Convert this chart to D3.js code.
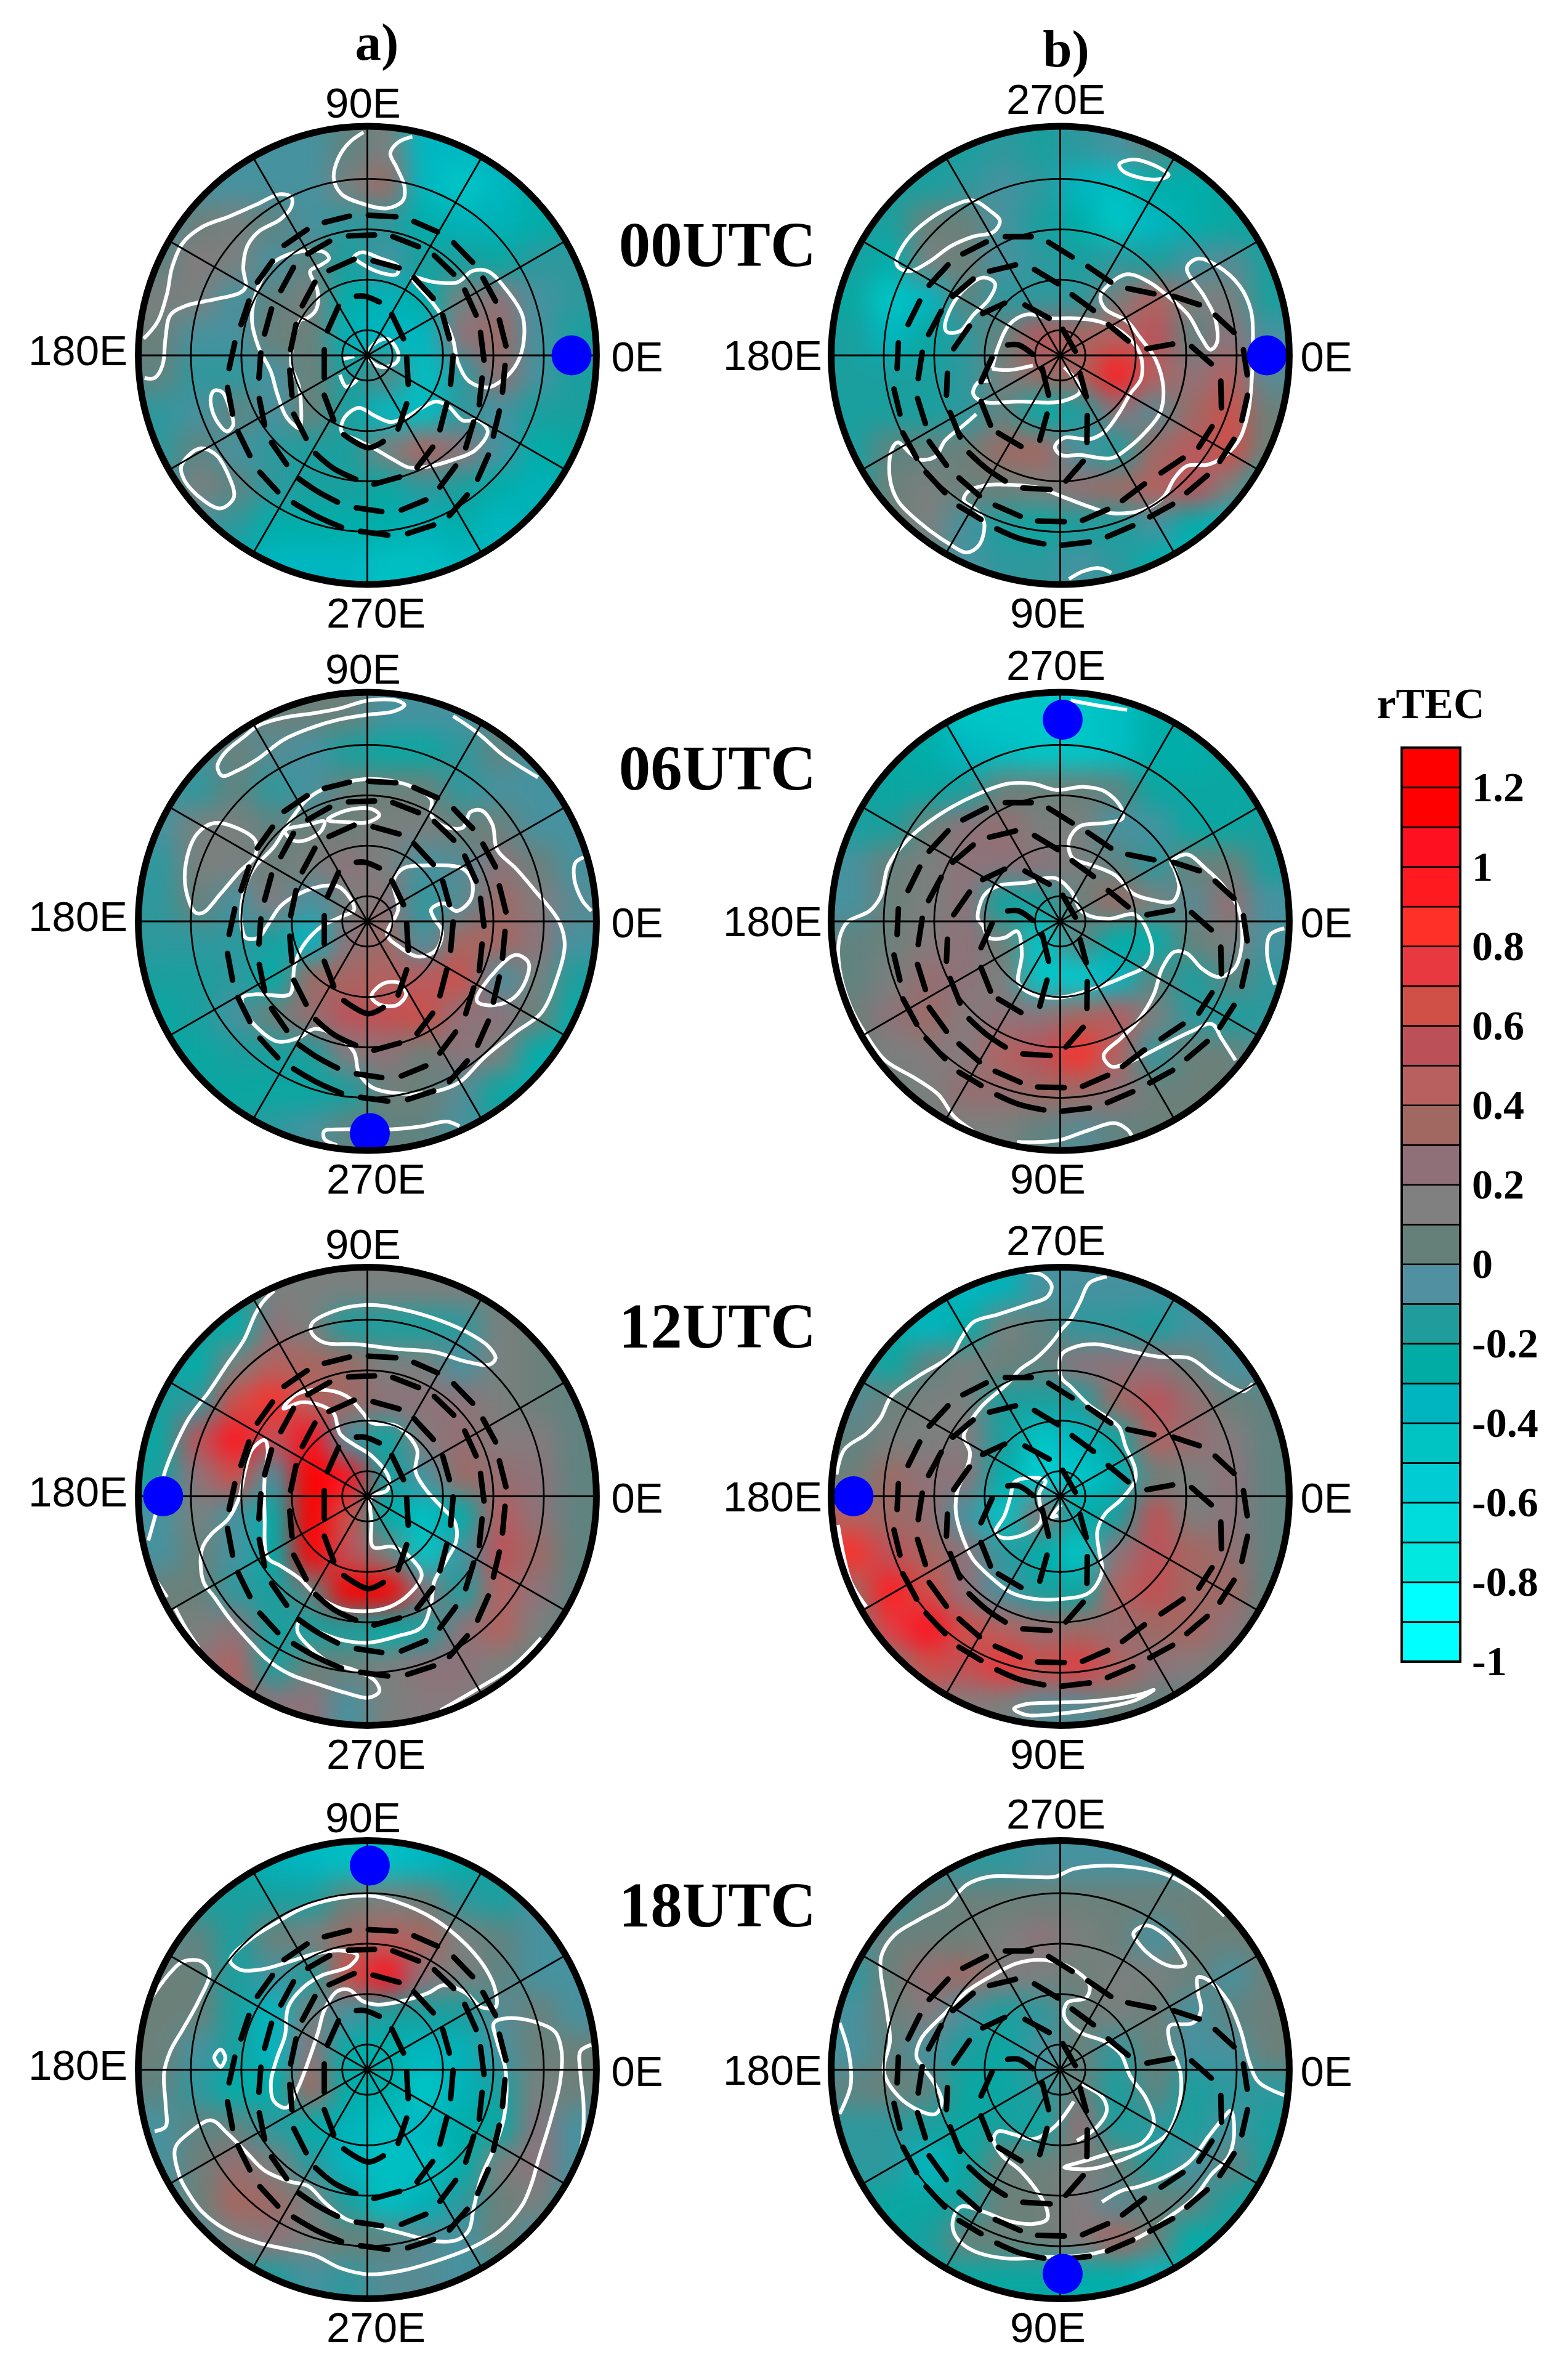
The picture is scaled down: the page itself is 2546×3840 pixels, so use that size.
<!DOCTYPE html>
<html lang="en">
<head>
<meta charset="utf-8">
<title>rTEC polar maps</title>
<script src="https://d3js.org/d3.v7.min.js"></script>
<style>
  html, body { margin: 0; background: #fff; }
  svg { display: block; }
  .lab { font-family: "Liberation Sans", Arial, sans-serif; font-size: 69px; fill: #000; }
  .big { font-family: "Liberation Serif", "Times New Roman", serif; font-weight: bold; fill: #000; }
</style>
</head>
<body>
<script>
// colour bar, band edges go from -1 up to 1.3 in steps of 0.1, colours bottom to top
var barEdges = [-1,-0.9,-0.8,-0.7,-0.6,-0.5,-0.4,-0.3,-0.2,-0.1,0,0.1,0.2,0.3,0.4,0.5,0.6,0.7,0.8,0.9,1,1.1,1.2,1.3];
var barColors = ["#00ffff","#00ffff","#00e8e0","#00dcdc","#00ccd4","#00c4c4","#00b4c0","#00aca4","#209c9c","#5090a0","#648078","#808080","#907078","#a06860","#b86060","#bc5058","#d05048","#e83840","#ff3028","#ff1a20","#ff1020","#ff0000","#ff0000"];
var barTicks = [1.2,1,0.8,0.6,0.4,0.2,0,-0.2,-0.4,-0.6,-0.8,-1];

var utcLabels = ["00UTC","06UTC","12UTC","18UTC"];
var ringColat = [10,30,50,70];
var spokeLon = d3.range(0,360,30);
var subsolarLon = [0,270,180,90];
var subsolarColatA = [81,84,81,81];
var subsolarColatB = [82,80,82,81];

// rTEC on a 12 x 12 grid over the plot square, top row first
var fieldA00 = [
[-.1,-.1,-.1,-.1,-.1,0,.1,-.4,-.4,-.35,-.3,-.3],
[-.1,-.1,-.1,-.1,-.1,.1,.3,-.4,-.5,-.4,-.3,-.3],
[-.1,.05,.1,0,-.1,-.15,-.15,-.3,-.35,-.35,-.3,-.2],
[0,.15,.1,-.1,0,-.2,-.1,-.2,-.2,-.25,-.15,-.15],
[.1,.1,-.1,0,.1,-.3,-.35,-.3,.1,.2,-.1,-.15],
[.05,-.1,-.1,.05,.05,-.35,-.4,-.4,.2,.3,-.1,-.2],
[0,-.15,-.15,-.1,.05,-.2,0,-.45,-.15,.25,-.1,-.2],
[-.15,-.1,0,-.1,.05,-.2,-.4,-.45,-.15,-.1,-.2,-.2],
[-.15,0,-.1,-.15,-.2,-.2,.1,.4,.2,-.1,-.3,-.25],
[-.1,.1,0,-.15,-.2,-.2,-.25,-.15,-.2,-.3,-.35,-.3],
[-.1,-.1,-.15,-.3,-.3,-.3,-.3,-.35,-.3,-.4,-.35,-.3],
[-.1,-.2,-.3,-.4,-.4,-.4,-.45,-.45,-.4,-.4,-.3,-.3]];
var fieldB00 = [
[-.2,-.2,-.2,-.2,-.15,-.2,-.15,-.1,0,-.2,-.25,-.25],
[-.2,-.2,-.2,-.15,-.1,-.15,-.4,-.45,-.3,-.3,-.25,-.25],
[-.2,-.2,.05,.05,-.1,-.2,-.3,-.5,-.4,-.3,-.25,-.25],
[-.2,-.3,.1,.05,-.1,-.15,-.2,-.15,-.2,-.1,-.05,-.2],
[-.25,-.5,-.4,0,-.15,-.15,-.15,.1,.4,.1,.1,-.2],
[-.2,-.4,-.25,-.15,.05,.5,.35,.4,.5,0,.2,-.1],
[-.2,-.2,-.2,-.15,.1,.3,.35,.9,.4,.2,.4,-.05],
[-.2,-.2,-.2,-.15,0,-.3,-.2,.2,-.05,.3,.6,.05],
[-.2,0,0,.05,.3,.35,-.1,-.2,.3,.45,.6,.05],
[-.2,.05,.1,.05,.05,.1,.25,.3,.4,.5,.1,-.3],
[-.2,.05,.1,-.1,-.2,-.25,-.2,-.2,-.1,-.3,-.4,-.4],
[-.2,-.1,0,-.1,-.15,-.15,-.1,-.15,-.3,-.4,-.4,-.3]];
var fieldA06 = [
[-.1,-.1,-.1,.05,.05,.05,-.1,-.1,-.1,0,-.05,-.1],
[-.1,-.1,.05,-.05,-.1,-.2,-.25,-.25,-.15,0,-.1,-.1],
[-.1,-.15,0,-.15,-.1,.05,.05,.05,-.15,-.1,-.1,-.1],
[-.1,.1,.1,0,.05,.05,.1,.1,.05,.05,-.1,-.1],
[-.15,.1,.1,.05,.1,.2,.1,-.1,-.05,.2,.05,-.1],
[-.15,.05,-.1,.15,-.1,.1,.2,-.15,-.05,.3,.15,-.05],
[-.15,-.15,-.15,-.2,-.4,.2,.3,-.1,.35,.35,.2,-.1],
[-.2,-.2,-.15,-.3,.3,.35,.4,.45,.6,-.1,.1,-.2],
[-.25,-.2,-.1,.05,.25,.5,.55,.6,.2,.2,.05,-.3],
[-.25,-.25,-.2,-.2,-.2,.15,.2,.05,.2,.1,-.3,-.35],
[-.25,-.25,-.25,-.25,-.25,-.2,.05,.05,-.05,-.25,-.35,-.4],
[-.2,-.2,-.2,-.15,-.1,0,0,0,-.1,-.2,-.3,-.3]];
var fieldB06 = [
[-.2,-.2,-.3,-.5,-.5,-.5,-.5,-.45,-.3,-.25,-.2,-.2],
[-.25,-.25,-.3,-.4,-.45,-.5,-.5,-.45,-.3,-.3,-.25,-.25],
[-.2,-.25,-.25,-.2,.05,.05,.05,0,-.25,-.25,-.25,-.25],
[-.2,-.2,.05,.2,.25,.1,.1,-.1,-.1,-.25,-.25,-.2],
[-.1,.05,.1,.2,.2,.2,.1,0,-.15,.05,.05,-.2],
[-.1,.05,.1,.2,-.25,-.2,.05,.3,.1,-.05,.25,-.1],
[0,.05,.15,.2,.05,-.5,0,-.3,-.3,.05,.1,-.1],
[0,.1,.25,.2,.1,-.5,-.55,-.4,0,-.2,0,-.15],
[.05,.2,.3,.15,.2,.2,.35,.45,.1,-.15,-.2,-.15],
[.05,.1,.15,.15,.4,.5,.8,.4,-.15,.05,.05,-.1],
[0,.05,.1,.25,.25,.3,.3,.2,.05,.05,.05,-.05],
[-.1,-.05,.05,.1,.1,0,-.05,0,.05,.05,0,-.1]];
var fieldA12 = [
[-.2,-.2,-.2,.1,.1,.1,.1,.1,.1,.05,.05,0],
[-.2,-.2,-.3,.2,.1,-.2,-.2,-.2,-.15,.1,.05,0],
[-.2,-.3,.1,.4,.35,.3,.1,.1,-.1,.1,.05,0],
[-.2,-.15,.6,.8,.4,.3,.2,.2,.2,.1,.05,0],
[-.25,.5,.95,.5,1,-.1,-.25,.15,.25,.15,.15,0],
[-.2,.2,.6,-.1,1.2,1,-.2,-.1,.3,.25,.2,0],
[-.1,.1,-.1,-.3,1.2,.6,-.3,-.45,-.3,.45,.2,0],
[-.1,.05,-.1,-.3,1.1,.5,.1,-.5,-.1,.5,.3,0],
[.05,.05,-.15,-.2,0,1.2,1.2,.2,-.2,.4,.2,0],
[.05,.1,.2,-.2,-.2,-.2,-.3,-.2,.2,.4,.1,0],
[.05,.2,.4,-.2,.05,.05,.1,.2,.2,.1,0,0],
[.05,.1,.3,.2,.2,-.1,.1,.15,.15,.05,0,0]];
var fieldB12 = [
[-.3,-.3,-.3,-.4,-.35,-.1,-.1,-.1,-.1,-.15,-.1,-.1],
[-.2,-.3,-.4,-.3,.1,0,-.15,-.15,-.2,-.1,-.1,-.1],
[-.1,-.25,0,.1,.05,0,.2,.2,.2,.05,-.1,-.1],
[-.05,.05,.1,.1,-.2,-.2,-.2,.3,.5,.25,.05,0],
[0,.1,.1,.15,-.2,-.5,-.4,-.25,.4,.25,.15,0],
[.05,.3,.2,.2,-.3,-.6,-.5,-.35,.05,.1,.2,0],
[.4,.3,.25,-.1,-.5,.25,-.3,-.2,.55,.1,.2,0],
[.8,.5,.35,.2,-.15,-.3,-.5,.2,.5,.35,.25,0],
[.3,.9,.6,.2,-.1,-.2,-.25,.4,.55,.3,.3,0],
[.05,.7,1,.6,.4,.25,.3,.25,.3,.35,.2,0],
[0,.1,.6,.55,.75,.6,.7,.4,.2,.15,.05,0],
[0,.05,.2,.15,.1,-.05,-.05,.05,0,0,0,0]];
var fieldA18 = [
[-.25,-.25,-.25,-.35,-.4,-.45,-.45,-.4,-.3,-.2,-.15,-.1],
[-.15,-.2,-.2,-.2,-.2,.05,.1,.05,-.15,-.2,-.1,-.1],
[-.05,0,-.2,.05,.1,.3,.4,.35,.1,0,-.1,-.1],
[.05,.05,-.2,-.1,-.2,.6,1,.2,.1,0,-.1,-.1],
[.05,.05,-.2,-.4,.1,-.1,-.2,-.2,-.2,-.05,.05,-.1],
[.05,-.1,-.2,-.4,.2,-.3,-.3,-.4,-.35,-.1,.05,.05],
[0,-.15,-.3,-.3,.35,-.3,-.3,-.5,-.35,-.2,.1,.05],
[-.1,0,0,-.15,-.3,-.35,-.45,-.4,-.3,-.25,.2,-.1],
[-.1,.05,.25,.1,-.15,-.4,-.45,-.45,-.3,.1,.2,-.1],
[-.1,.05,.35,.3,.1,-.2,-.45,-.35,-.15,.05,.1,-.15],
[-.1,-.1,.1,.2,.1,.05,0,-.05,-.1,.05,-.1,-.15],
[-.1,-.2,-.2,-.2,-.1,-.15,-.05,-.05,-.1,-.15,-.15,-.15]];
var fieldB18 = [
[-.1,-.1,-.1,-.15,-.15,-.1,-.1,-.1,-.1,-.1,-.1,-.1],
[-.1,-.15,0,.05,.05,.05,.05,.05,.05,.05,.05,.05],
[-.1,.05,.05,.05,.1,.2,.1,.05,-.1,.05,.05,.05],
[-.15,.05,.25,.3,.15,.1,.05,.1,.1,.05,-.1,.05],
[-.1,.05,.15,-.1,-.2,-.15,.05,.1,.05,-.1,0,.05],
[-.1,0,-.1,-.2,-.25,-.1,.05,-.15,.05,-.1,-.1,.05],
[0,.05,0,-.25,-.25,-.15,.05,-.2,0,-.2,-.15,-.15],
[-.15,-.15,-.2,-.25,-.2,-.25,.25,-.2,-.15,-.2,-.1,-.2],
[-.15,-.15,-.4,-.25,.05,.05,.1,.05,-.2,-.1,0,-.2],
[-.2,-.25,-.25,-.2,.05,.05,.15,-.05,.05,0,-.2,-.25],
[-.25,-.25,-.2,.05,.05,.05,.15,.35,.05,-.3,-.25,-.25],
[-.25,-.25,-.25,-.25,-.25,-.25,-.3,-.3,-.4,-.3,-.25,-.2]];

// zero contours, x,y pairs in plot units (plot centre x=787, plot radius 722)
// a list that ends on its first point is a closed loop
var zeroA00 = [
[775,68,730,100,695,150,680,215,705,265,770,295,850,310,900,285,905,240,880,180,860,135,885,100,930,82],
[75,725,120,670,150,580,165,500,200,420,260,370,350,335,430,300,510,265,545,275,545,305,510,345,440,385,405,430,392,500,400,560,380,580,300,600,210,620,160,650,145,720,135,810,110,850,78,850],
[430,590,480,490,560,450,650,450,665,470,640,490,605,510,628,570,625,630,595,660,575,665,550,740,545,810,570,880,575,1000,570,1010,530,975,500,900,480,830,440,750,420,670,430,590],
[300,890,325,895,350,950,360,1000,340,1020,310,990,290,940,290,905,300,890],
[195,1130,250,1075,300,1090,345,1160,362,1230,320,1265,260,1235,205,1175,195,1130],
[705,1020,715,975,760,945,810,970,860,990,910,975,960,945,1005,925,1045,940,1090,985,1140,985,1170,1020,1130,1080,1060,1110,990,1130,920,1135,870,1110,810,1075,760,1050,705,1020],
[930,530,1000,545,1075,545,1120,510,1170,510,1230,570,1280,650,1285,730,1265,800,1225,850,1170,880,1110,860,1075,800,1060,730,1035,670,990,605,930,530],
[745,465,770,450,830,470,885,495,880,520,830,515,775,490,745,465],
[800,750,850,725,885,770,880,800,830,815,790,785,800,750],
[710,790,745,780],
[700,840,720,878,755,855]];
var zeroB00 = [
[975,170,1020,155,1100,180,1132,205,1100,218,1030,210,985,190,975,170],
[265,480,300,410,370,345,450,300,510,285,560,315,595,350,575,385,510,400,440,430,370,480,310,510,275,500,265,480],
[420,690,440,625,490,560,545,530,580,550,560,600,510,650,470,700,430,705,420,690],
[570,820,590,750,625,680,680,648,760,660,830,660,910,670,985,705,1040,770,1045,850,1010,900,975,960,930,1020,880,1045,800,1040,770,1070,790,1095,850,1095,950,1105,1000,1075,1060,1020,1105,960,1115,880,1090,790,1040,720,1000,670,930,630,915,590,940,555,1000,520,1070,545,1130,590,1195,650,1235,720,1265,760,1285,740,1280,660,1245,590,1190,500,1225,470,1290,495,1360,560,1395,640,1400,750,1395,880,1385,960,1360,1040,1320,1090,1260,1125,1190,1130,1150,1170,1115,1230,1050,1270,950,1280,880,1260,800,1230,720,1200,630,1190,560,1190,495,1210,480,1240,520,1270,545,1310,530,1380,490,1405,430,1375,340,1310,270,1240,245,1170,250,1080,270,1055,310,1090,340,1110,390,1100,420,1050,480,1000,520,965],
[570,820,620,825,700,810],
[800,815,845,870,850,895,790,925,660,925,540,925,510,900,525,865,565,860],
[815,1490,860,1465,910,1455,950,1470]];
var zeroA06 = [
[440,155,520,130,620,115,700,100,790,75,880,75,905,90,870,110,790,120,700,135,600,165,520,200,440,260,370,300,325,315,310,285,335,240,395,190,440,155],
[1060,125,1140,180,1220,250,1330,320],
[240,750,210,680,210,590,245,500,300,465,370,480,430,520,430,570,380,620,320,690,265,750,240,750],
[590,395,640,360,720,335,790,325,860,330,930,350,990,390,990,440,1030,475,1090,480,1115,430,1150,425,1185,470,1200,550,1260,610,1320,680,1395,775,1415,850,1390,960,1340,1070,1260,1130,1160,1210,1080,1290,1000,1320,880,1325,800,1305,760,1260,745,1195,700,1150,620,1120,565,1150,500,1160,430,1110,395,1060,390,1020,430,1010,540,1010,550,970,555,920,580,860,640,795,700,765,745,740,700,670,650,665,570,690,510,730,470,790,440,830,400,830,385,770,395,680,425,610,490,540,540,460,590,395],
[525,490,600,470,650,460,640,490,590,520,550,520,525,490],
[660,455,720,425,800,420,825,440,790,462,720,462,660,455],
[870,650,900,610,990,600,1090,610,1120,650,1115,710,1070,745,1030,720,990,740,1000,770,1025,810,1005,870,950,890,890,860,850,820,885,740,870,650],
[1135,1030,1200,930,1260,885,1300,910,1285,980,1240,1030,1170,1045,1135,1030],
[800,1015,840,975,890,975,910,1010,880,1045,820,1040,800,1015],
[1500,565,1450,590,1445,640,1470,710,1500,745],
[1080,1430,1040,1415,960,1430,860,1440,790,1440,690,1440,650,1445,650,1470,690,1490]];
var zeroB06 = [
[510,1445,450,1400,400,1330,330,1280,230,1220,170,1140,120,1050,85,930,85,830,110,780,180,745,215,700,240,600,300,520,400,440,520,375,620,340,700,340,775,360,860,350,930,365,980,415,985,450,930,465,850,475,815,520,825,575,890,600,960,630,1020,690,1080,710,1145,715,1165,670,1150,610,1140,590,1190,565,1250,610,1310,670,1355,740,1365,850,1340,930,1290,955,1240,930,1190,880,1150,875,1110,930,1085,1010,1030,1100,980,1150,925,1205,950,1240,1010,1225,1100,1180,1200,1130,1270,1105,1300,1150,1345,1220],
[820,75,900,90,1000,105],
[525,770,545,695,590,665,680,655,770,640,820,680,860,750,940,770,1020,755,1050,780,1080,870,1060,920,1000,950,900,990,790,1020,700,1010,655,975,665,880,650,810,610,830,560,830,540,790,525,770],
[650,1480,780,1475,870,1445,960,1420,1000,1440,1015,1460],
[1500,800,1455,820,1445,880,1470,980]];
var zeroA12 = [
[490,135,455,170,430,210,395,290,340,370,280,460,220,540,170,640,140,720,125,800,90,930],
[610,240,680,200,790,180,900,195,1020,230,1110,270,1170,310,1195,350,1175,370,1100,360,1000,330,880,320,750,305,650,300,610,270,610,240],
[520,510,560,465,640,450,720,470,770,520,800,555,880,565,945,640,940,710,975,770,1025,825,1065,870,1070,930,1040,990,1000,1060,990,1130,960,1205,880,1235,790,1255,700,1245,620,1215,570,1190,565,1220,610,1275,670,1320,740,1340,810,1375,825,1410,790,1430,720,1415,640,1390,540,1355,470,1310,420,1260,350,1180,300,1110,265,1060,260,960,290,910,345,860,380,790,395,720,420,640,460,610,470,640,460,730,460,850,470,985,510,1010,570,1050,620,1100,700,1145,780,1155,860,1140,920,1100,960,1040,930,990,870,950,805,950,800,870,800,790,850,770,855,730,800,660,745,625,700,590,680,525,640,500,575,490,520,510],
[175,1145,210,1210,250,1270],
[110,1050,150,1110],
[1020,1470,1140,1400,1250,1330,1340,1240]];
var zeroB12 = [
[75,720,100,640,170,590,215,540,250,470,330,410,440,340,470,290,510,235,590,210,680,180,745,155,760,120,730,85,680,75],
[935,90,880,110,850,170,820,225,790,260,760,300,710,350,660,385,620,430,540,500,490,570,480,600,500,650,490,700,460,770,455,840,480,930,510,990,570,1050,630,1095,700,1115,800,1115,880,1095,920,1030,910,960,905,900,930,845,980,800,1025,740,1025,700,995,630,975,570,940,540,880,500,820,440,790,410,790,340,830,315,900,305,1000,325,1100,345,1200,350,1270,400,1340,445,1370,455,1400,430],
[580,905,610,850,630,785,640,745,690,730,740,740,720,780,725,870,660,915,600,920,580,905],
[780,850,760,855,790,815],
[80,880,120,1060,170,1140],
[1085,1405,1040,1420,900,1440,790,1445,680,1450,640,1465,680,1485,790,1480,900,1465,1020,1440,1085,1405]];
var zeroA18 = [
[350,440,380,470,450,470,540,445,620,420,700,410,755,425,730,460,640,490,580,530,535,590,525,680,500,750,480,830,490,890,530,910,565,850,600,760,630,670,650,600,690,540,730,535,770,570,820,582,900,570,980,545,1030,520,1100,545,1150,590,1195,590,1195,540,1165,470,1100,390,1000,310,880,255,790,235,660,250,570,280,500,320,420,370,350,440],
[100,560,160,480,200,445,260,445,285,480,250,570,200,660,160,730,140,800,145,900,145,970,110,985],
[300,750,320,725,335,750,320,780,300,750],
[175,1040,220,990,290,950,340,990,400,1050,460,1110,540,1145,600,1160,650,1210,720,1265,800,1285,900,1310,1000,1335,1075,1330,1110,1300,1125,1230,1150,1130,1190,1040,1220,950,1230,860,1225,780,1200,700,1190,640,1240,625,1330,640,1385,670,1405,730,1400,830,1370,950,1330,1080,1310,1150,1280,1220,1210,1300,1130,1350,1000,1400,890,1430,790,1440,700,1420,620,1380,530,1360,440,1340,340,1300,260,1240,210,1170,190,1130,175,1040],
[1500,710,1465,730,1465,800,1475,900,1470,1020,1445,1110]];
var zeroB18 = [
[1310,300,1230,230,1140,175,1080,155,950,140,830,150,770,175,680,175,560,175,490,200,430,260,340,310,260,360,220,420,215,470,235,600,245,700,225,790,260,860,320,910,390,930,410,890,385,830,350,780,330,750,345,690,420,610,490,540,570,490,650,450,740,440,830,470,880,520,870,560,810,575,800,620,850,670,930,700,980,740,1010,810,1060,880,1085,960,1050,1020,960,1050,880,1075,800,1100,880,1105,960,1085,1060,1040,1130,990,1165,900,1170,800,1135,700,1135,650,1210,640,1235,600,1225,540,1225,495,1260,505,1320,570,1360,660,1390,770,1420,830,1500,870],
[920,1210,980,1175,1040,1160,1120,1130,1200,1080,1260,1000,1300,950,1330,920,1340,1000,1320,1070,1270,1120,1210,1200,1130,1260,1060,1310,960,1355,860,1380,740,1385,620,1390,510,1365,455,1320,445,1270,470,1225,540,1240,620,1270,700,1280,745,1265,745,1235,720,1185,660,1110,600,1060,575,1010,590,985,640,995,700,1010,770,970,830,890],
[855,835,920,875,935,920,900,975,840,1015],
[1020,355,1060,330,1120,360,1170,420,1185,455,1140,460,1080,430,1035,385,1020,355],
[85,640,115,740,120,840,85,930]];

// black dashed contours, the same in every panel of a column, one list per dash
var dashesA = [
[650,355,730,335],[790,332,878,337],[935,352,1010,385],[1062,420,1122,482],[1155,532,1195,605],[1207,665,1228,748],[1225,810,1217,895],[1207,955,1188,1035],[1172,1095,1138,1172],[1105,1222,1048,1288],[998,1318,915,1345],[852,1350,765,1338],[705,1325,630,1292,552,1247],[502,1212,445,1150],[413,1097,375,1020],[358,965,342,880],[347,820,365,738],[385,680,410,605],[437,545,485,478],[522,428,595,378],
[727,398,810,395],[868,400,950,432],[1000,460,1062,520],[1097,570,1133,650],[1147,705,1158,793],[1152,850,1143,935],[1125,990,1100,1072],[1068,1130,1018,1197],[973,1238,895,1270],[833,1275,752,1263],[692,1245,630,1212,568,1170],[530,1125,482,1055],[460,1000,443,915],[442,850,448,770],[460,710,482,630],[512,572,552,498],[597,455,667,415],
[665,508,745,472],[805,477,888,500],[935,530,997,597],[1027,650,1048,725],[1060,780,1052,870],[1040,930,1018,1015],[995,1070,945,1135],[890,1165,808,1188],[750,1172,680,1138,622,1090],[592,1042,553,965],[547,905,540,825],[543,760,560,680],[580,620,620,545],
[752,590,780,590,825,608],[865,648,902,725],[912,785,917,870],[912,932,885,1012],[838,1052,790,1072,712,1030],[680,985,650,905],[650,850,650,760],[660,700,695,622]];
var dashesB = [
[612,400,695,400],[750,418,825,465],[875,495,948,545],[1002,565,1085,582],[1147,590,1230,617],[1280,650,1340,705],[1370,760,1382,840],[1383,905,1365,985],[1340,1045,1295,1115],[1255,1160,1190,1215],[1145,1252,1072,1292],[1018,1320,937,1355],[880,1372,792,1382],[735,1378,655,1360,585,1330],[535,1300,465,1258],[420,1215,360,1150],[330,1105,287,1025],[277,965,258,885],[268,820,272,738],[303,680,340,605],[370,555,430,490],[477,455,552,417],
[562,510,645,490],[705,505,780,550],[825,585,893,635],[940,680,1003,732],[1063,757,1145,742],[1205,750,1268,805],[1298,860,1300,945],[1270,1005,1228,1070],[1178,1105,1108,1152],[1055,1187,985,1240],[938,1268,858,1303],[800,1307,715,1305],[660,1290,580,1255],[530,1225,465,1168],[425,1128,370,1052],[358,995,333,915],[335,852,348,768],[368,712,408,638],[445,590,510,535],
[540,645,610,612],[675,618,752,660],[448,757,498,685],[428,835,425,905],[437,960,468,1038],[497,1088,555,1140,612,1178],[668,1200,755,1205],[805,1178,860,1115],[872,1055,873,970],[745,965,722,1048],[662,1068,590,1025],[565,1000,535,925],[535,862,570,785],[620,745,655,745,700,775],[730,820,750,905],[795,695,835,765],[850,835,870,910]];

var W = 2546, H = 3840, R = 368.4;
var colX = [596.5, 1721.5];
var rowY = [577, 1496, 2429.5, 3360.5];
var digitCx = 787, digitR = 722, digitCyRow = [778,778,789,789], digitCyDash = 778;

var svg = d3.select("body").append("svg").attr("width", W).attr("height", H).style("background","#fff");
var defs = svg.append("defs");
var blur = defs.append("filter").attr("id","fieldBlur")
  .attr("x","-15%").attr("y","-15%").attr("width","130%").attr("height","130%")
  .attr("color-interpolation-filters","sRGB");
blur.append("feGaussianBlur").attr("stdDeviation",21);

// colour of a value: through the band middles of the colour bar
var mids = d3.pairs(barEdges, function(a,b){ return (a+b)/2; });
var color = d3.scaleLinear().domain(mids).range(barColors).clamp(true);

function pairsOf(flat){
  var out = [];
  for(var i = 0; i < flat.length; i += 2){ out.push([flat[i], flat[i+1]]); }
  return out;
}

function drawPanel(col, row, field, contours, dashes, topLab, botLab, colat){
  var cx = colX[col], cy = rowY[row];
  var flip = col == 0 ? -1 : 1;  // column a has 90E on top, column b has 270E on top
  var x = d3.scaleLinear().domain([digitCx-digitR, digitCx+digitR]).range([cx-R, cx+R]);
  var y = d3.scaleLinear().domain([digitCyRow[row]-digitR, digitCyRow[row]+digitR]).range([cy-R, cy+R]);
  var yDash = d3.scaleLinear().domain([digitCyDash-digitR, digitCyDash+digitR]).range([cy-R, cy+R]);
  var rad = d3.scaleLinear().domain([0,90]).range([0,R]);
  var bandX = d3.scaleBand().domain(d3.range(12)).range([cx-R, cx+R]);
  var bandY = d3.scaleBand().domain(d3.range(12)).range([cy-R, cy+R]);
  var id = "clip" + col + row;

  defs.append("clipPath").attr("id", id).append("circle").attr("cx",cx).attr("cy",cy).attr("r",R+2);

  var g = svg.append("g").attr("clip-path","url(#"+id+")");
  var cells = [];
  field.forEach(function(vals, j){ vals.forEach(function(v, i){ cells.push({i:i, j:j, v:v}); }); });
  var pad = 70;  // outer cells run past the rim so the blur does not fade there
  g.append("g").attr("filter","url(#fieldBlur)").selectAll("rect").data(cells).enter().append("rect")
    .attr("x", function(d){ return bandX(d.i) - (d.i==0 ? pad : 0); })
    .attr("y", function(d){ return bandY(d.j) - (d.j==0 ? pad : 0); })
    .attr("width", function(d){ return bandX.bandwidth() + (d.i==0||d.i==11 ? pad : 0) + 1; })
    .attr("height", function(d){ return bandY.bandwidth() + (d.j==0||d.j==11 ? pad : 0) + 1; })
    .attr("fill", function(d){ return color(d.v + 0.03); });

  var lineOpen = d3.line().x(function(d){return x(d[0]);}).y(function(d){return y(d[1]);}).curve(d3.curveCatmullRom);
  var lineClosed = d3.line().x(function(d){return x(d[0]);}).y(function(d){return y(d[1]);}).curve(d3.curveCatmullRomClosed);
  contours.forEach(function(flat){
    var pts = pairsOf(flat), n = pts.length;
    var closed = n > 3 && pts[0][0]==pts[n-1][0] && pts[0][1]==pts[n-1][1];
    g.append("path").attr("d", closed ? lineClosed(pts.slice(0,n-1)) : lineOpen(pts))
      .attr("fill","none").attr("stroke","#fff").attr("stroke-width",6);
  });

  // graticule
  ringColat.forEach(function(c){
    g.append("circle").attr("cx",cx).attr("cy",cy).attr("r",rad(c))
      .attr("fill","none").attr("stroke","#000").attr("stroke-width",2.8);
  });
  spokeLon.forEach(function(lon){
    var a = lon*Math.PI/180;
    g.append("line").attr("x1",cx).attr("y1",cy)
      .attr("x2",cx+rad(90)*Math.cos(a)).attr("y2",cy+flip*rad(90)*Math.sin(a))
      .attr("stroke","#000").attr("stroke-width",2.8);
  });

  var dashLine = d3.line().x(function(d){return x(d[0]);}).y(function(d){return yDash(d[1]);}).curve(d3.curveCatmullRom);
  dashes.forEach(function(flat){
    g.append("path").attr("d", dashLine(pairsOf(flat))).attr("fill","none")
      .attr("stroke","#000").attr("stroke-width",9).attr("stroke-linecap","round");
  });

  // subsolar point
  var sa = subsolarLon[row]*Math.PI/180;
  svg.append("circle").attr("cx",cx+rad(colat)*Math.cos(sa)+(sa%Math.PI ? 4 : 0)).attr("cy",cy+flip*rad(colat)*Math.sin(sa))
    .attr("r",32.5).attr("fill","#0000ff");

  svg.append("circle").attr("cx",cx).attr("cy",cy).attr("r",R+3.5)
    .attr("fill","none").attr("stroke","#000").attr("stroke-width",11);

  var off = col == 0 ? {t:-7, b:14, l:-470, rx:396, ty:-386, ly:16, ry:26} : {t:-7, b:-20, l:-467, rx:390, ty:-392, ly:24, ry:26};
  svg.append("text").attr("class","lab").attr("x",cx+off.t).attr("y",cy+off.ty).attr("text-anchor","middle").text(topLab);
  svg.append("text").attr("class","lab").attr("x",cx+off.b).attr("y",cy+442).attr("text-anchor","middle").text(botLab);
  svg.append("text").attr("class","lab").attr("x",cx+off.l).attr("y",cy+off.ly).attr("text-anchor","middle").text("180E");
  svg.append("text").attr("class","lab").attr("x",cx+off.rx).attr("y",cy+off.ry).text("0E");
}

[fieldA00,fieldA06,fieldA12,fieldA18].forEach(function(f,row){
  drawPanel(0, row, f, [zeroA00,zeroA06,zeroA12,zeroA18][row], dashesA, "90E", "270E", subsolarColatA[row]);
});
[fieldB00,fieldB06,fieldB12,fieldB18].forEach(function(f,row){
  drawPanel(1, row, f, [zeroB00,zeroB06,zeroB12,zeroB18][row], dashesB, "270E", "90E", subsolarColatB[row]);
});

// titles
svg.append("text").attr("class","big").attr("x",612).attr("y",97).attr("text-anchor","middle").attr("font-size",85).text("a)");
svg.append("text").attr("class","big").attr("x",1731).attr("y",108).attr("text-anchor","middle").attr("font-size",85).text("b)");
var utcBase = [432,1282,2188,3128];
utcLabels.forEach(function(t,i){
  svg.append("text").attr("class","big").attr("x",1165).attr("y",utcBase[i]).attr("text-anchor","middle").attr("font-size",103).text(t);
});

// colour bar
var barY = d3.scaleLinear().domain([-1,1.3]).range([2698,1214]);
var barL = 2276, barR = 2371;
var bands = svg.append("g");
barColors.forEach(function(c,i){
  bands.append("rect").attr("x",barL).attr("width",barR-barL)
    .attr("y",barY(barEdges[i+1])).attr("height",barY(barEdges[i])-barY(barEdges[i+1]))
    .attr("fill",c).attr("stroke","#000").attr("stroke-width",2.5);
});
bands.append("rect").attr("x",barL).attr("y",barY(1.3)).attr("width",barR-barL).attr("height",barY(-1)-barY(1.3))
  .attr("fill","none").attr("stroke","#000").attr("stroke-width",4);
svg.append("g").attr("class","big").selectAll("text").data(barTicks).enter().append("text")
  .attr("x",2390).attr("y",function(d){return barY(d)+22;}).attr("font-size",68).text(function(d){return d;});
svg.append("text").attr("class","big").attr("x",2323).attr("y",1166).attr("text-anchor","middle").attr("font-size",70).text("rTEC");
</script>
</body>
</html>
